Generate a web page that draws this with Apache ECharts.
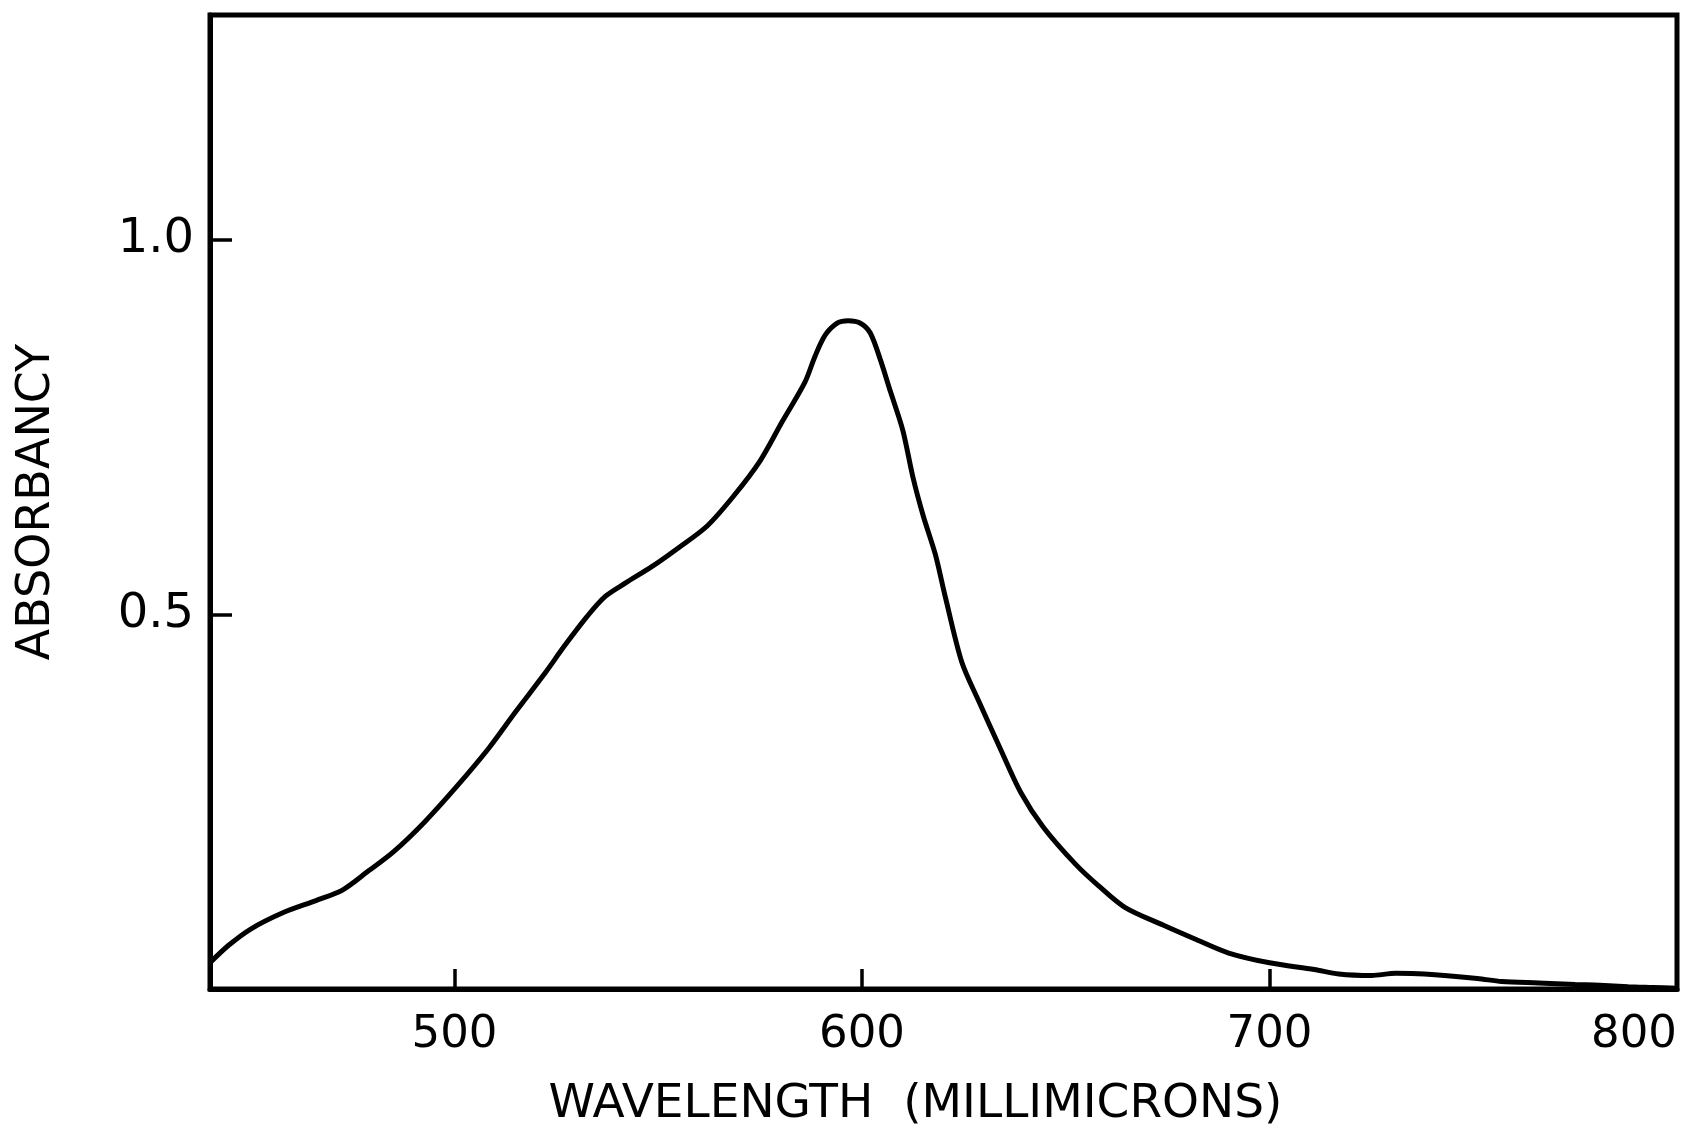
<!DOCTYPE html>
<html>
<head>
<meta charset="utf-8">
<script src="https://cdn.jsdelivr.net/npm/echarts@6/dist/echarts.min.js"></script>
<style>
  html, body { margin: 0; padding: 0; background: #fff; }
  #main { width: 1705px; height: 1125px; }
</style>
</head>
<body>
<div id="main"></div>
<script>
// absorption spectrum
var wavelength = [440, 444.5, 450, 458, 466, 472.5, 479, 485, 492.5, 500.5, 508.5, 515, 522, 527, 532.5, 537, 542, 548.5, 555, 562, 568.5, 575, 580.5, 586, 588.5, 591, 594, 596.6, 599.5, 602, 604.5, 607, 610, 612.5, 615, 618, 620.5, 624.5, 628.5, 634, 639, 644.5, 652.5, 658, 664.5, 674, 682, 690, 700, 711, 717, 725, 731, 738, 751, 757, 766, 775, 781, 788, 794, 800];
var absorbancy = [0.035, 0.058, 0.08, 0.102, 0.118, 0.132, 0.158, 0.183, 0.222, 0.27, 0.322, 0.37, 0.42, 0.458, 0.497, 0.524, 0.542, 0.564, 0.589, 0.618, 0.658, 0.705, 0.758, 0.81, 0.845, 0.873, 0.889, 0.892, 0.889, 0.876, 0.84, 0.797, 0.746, 0.683, 0.632, 0.58, 0.522, 0.436, 0.386, 0.32, 0.262, 0.216, 0.166, 0.138, 0.109, 0.085, 0.066, 0.048, 0.035, 0.026, 0.02, 0.018, 0.021, 0.02, 0.014, 0.01, 0.008, 0.006, 0.005, 0.003, 0.002, 0.001];
var xTicks = [500, 600, 700, 800];
var yTicks = [0.5, 1.0];

var points = [];
for (var k = 0; k < wavelength.length; k++) {
    points.push([wavelength[k], absorbancy[k]]);
}

var chart = echarts.init(document.getElementById('main'));
var font = 'DejaVu Sans';
var option = {
    backgroundColor: '#fff',
    animation: false,
    grid: {
        left: 210,
        right: 28,
        top: 15,
        bottom: 136,
        containLabel: false,
        outerBoundsMode: 'none',
        show: true,
        borderColor: '#000',
        borderWidth: 5
    },
    xAxis: {
        type: 'value',
        min: 440,
        max: 800,
        name: 'WAVELENGTH  (MILLIMICRONS)',
        nameLocation: 'middle',
        nameGap: 92,
        nameTextStyle: { color: '#000', fontFamily: font, fontSize: 47, padding: [0, 56, 0, 0] },
        axisLine: { show: true, lineStyle: { color: '#000', width: 5 } },
        axisTick: {
            show: true, inside: true, length: 20, customValues: xTicks,
            lineStyle: { color: '#000', width: 3.5 }
        },
        axisLabel: {
            customValues: xTicks, margin: 24,
            alignMaxLabel: 'right',
            color: '#000', fontFamily: font, fontSize: 45
        },
        splitLine: { show: false }
    },
    yAxis: {
        type: 'value',
        min: 0,
        max: 1.3,
        name: 'ABSORBANCY',
        nameLocation: 'middle',
        nameGap: 150,
        nameTextStyle: { color: '#000', fontFamily: font, fontSize: 46 },
        axisLine: { show: true, lineStyle: { color: '#000', width: 5 } },
        axisTick: {
            show: true, inside: true, length: 22, customValues: yTicks,
            lineStyle: { color: '#000', width: 3.5 }
        },
        axisLabel: {
            customValues: yTicks, margin: 16,
            color: '#000', fontFamily: font, fontSize: 48,
            formatter: function (v) { return v.toFixed(1); }
        },
        splitLine: { show: false }
    },
    series: [{
        type: 'line',
        data: points,
        smooth: 0.3,
        showSymbol: false,
        lineStyle: { color: '#000', width: 5 }
    }]
};
chart.setOption(option);
</script>
</body>
</html>
